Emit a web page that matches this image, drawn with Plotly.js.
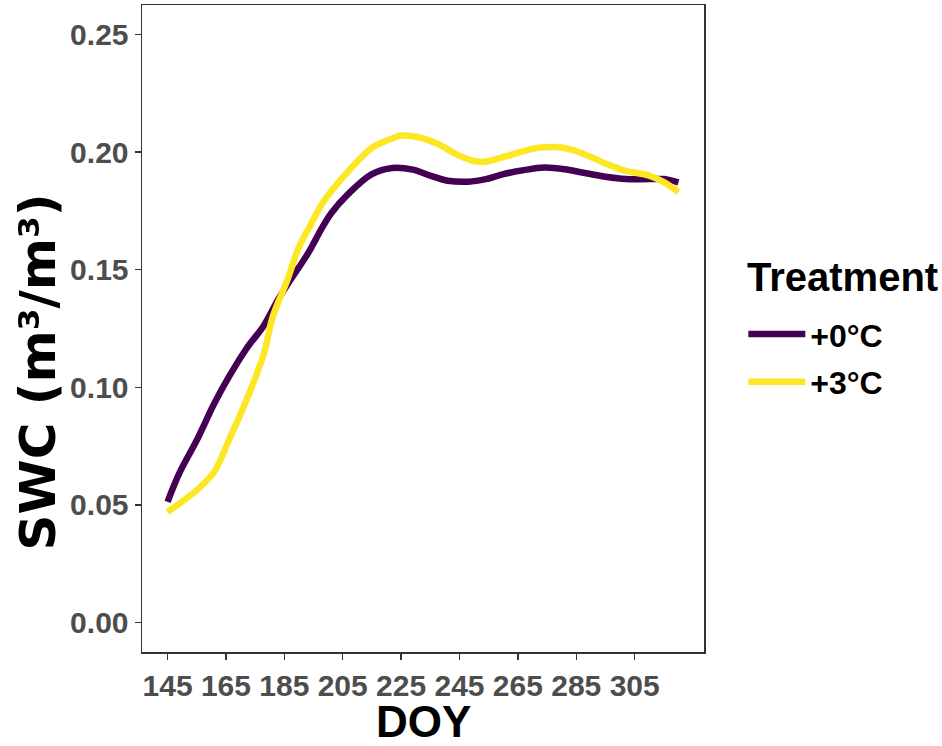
<!DOCTYPE html>
<html>
<head>
<meta charset="utf-8">
<script src="https://cdn.plot.ly/plotly-3.0.1.min.js"></script>
<style>html,body{margin:0;padding:0;background:#fff;}#chart{width:942px;height:746px;}</style>
</head>
<body>
<div id="chart"></div>
<script>
// Treatment names
const treatments = ["+0°C", "+3°C"];
const colors = ["#440154", "#FDE725"];
const legendTitle = "Treatment";
const xTitle = "DOY";
const yTitle = "SWC (m³/m³)";

// +0°C smoothed SWC
const doy0 = [145, 149, 155, 161, 166, 172, 178, 183, 187, 193, 198, 201, 207, 215, 222, 229, 235, 241, 248, 254, 260, 267, 274, 281, 287, 295, 302, 310, 315, 320];
const swc0 = [0.0513, 0.0634, 0.0775, 0.0931, 0.1044, 0.1164, 0.1263, 0.1376, 0.1455, 0.1567, 0.1680, 0.1739, 0.1823, 0.1906, 0.1932, 0.1925, 0.1900, 0.1878, 0.1874, 0.1885, 0.1906, 0.1923, 0.1934, 0.1927, 0.1913, 0.1895, 0.1885, 0.1885, 0.1885, 0.1871];

// +3°C smoothed SWC
const doy3 = [145, 149, 155, 161, 166, 172, 178, 181, 186, 190, 194, 198, 206, 215, 221, 225, 231, 238, 244, 250, 254, 260, 267, 272, 278, 283, 290, 296, 302, 310, 315, 320];
const swc3 = [0.0470, 0.0506, 0.0563, 0.0641, 0.0775, 0.0945, 0.1143, 0.1299, 0.1455, 0.1596, 0.1690, 0.1781, 0.1906, 0.2018, 0.2053, 0.2070, 0.2063, 0.2032, 0.1990, 0.1962, 0.1960, 0.1979, 0.2004, 0.2018, 0.2021, 0.2011, 0.1979, 0.1946, 0.1920, 0.1900, 0.1872, 0.1830];

const xTicks = [145, 165, 185, 205, 225, 245, 265, 285, 305];
const yTicks = [0, 0.05, 0.10, 0.15, 0.20, 0.25];

const FONT = "Liberation Sans, Arial, Helvetica, sans-serif";

const traces = [
  {x: doy0, y: swc0, name: treatments[0], legendgroup: "g0", type: "scatter", mode: "lines",
   line: {color: colors[0], width: 6.5, shape: "spline", smoothing: 1}},
  {x: doy3, y: swc3, name: treatments[1], legendgroup: "g3", type: "scatter", mode: "lines",
   line: {color: colors[1], width: 6.5, shape: "spline", smoothing: 1}}
];

const layout = {
  width: 942, height: 746,
  margin: {l: 142, r: 238, t: 5, b: 94, pad: 0},
  paper_bgcolor: "#ffffff", plot_bgcolor: "#ffffff",
  font: {family: FONT},
  xaxis: {
    range: [136.25, 328.75], tickvals: xTicks, ticktext: xTicks.map(String),
    showgrid: false, zeroline: false, showline: true, mirror: true,
    linecolor: "#333333", linewidth: 1.5,
    ticks: "outside", ticklen: 6, tickwidth: 1.5, tickcolor: "#333333",
    tickfont: {size: 30, color: "#4D4D4D", weight: 700, family: FONT}
  },
  yaxis: {
    range: [-0.0125, 0.2625], tickvals: yTicks, tickformat: ".2f",
    showgrid: false, zeroline: false, showline: true, mirror: true,
    linecolor: "#333333", linewidth: 1.5,
    ticks: "outside", ticklen: 6, tickwidth: 1.5, tickcolor: "#333333",
    tickfont: {size: 30, color: "#4D4D4D", weight: 700, family: FONT}
  },
  annotations: [
    {text: yTitle, textangle: -90,
     xref: "paper", yref: "paper", x: -0.185, y: 0.432,
     xanchor: "center", yanchor: "middle", showarrow: false,
     font: {size: 50, color: "#000000", weight: 700, family: "DejaVu Sans, Liberation Sans, sans-serif"}},
    {text: xTitle,
     xref: "paper", yref: "paper", x: 0.5, y: -0.108,
     xanchor: "center", yanchor: "middle", showarrow: false, borderpad: 0,
     font: {size: 44, color: "#000000", weight: 700, family: FONT}},
    {text: legendTitle,
     xref: "paper", yref: "paper", x: 1.073, y: 0.58,
     xanchor: "left", yanchor: "middle", showarrow: false,
     font: {size: 40, color: "#000000", weight: 700, family: FONT}}
  ],
  showlegend: true,
  legend: {
    x: 1.07, xanchor: "left", y: 0.5336, yanchor: "top",
    bgcolor: "rgba(0,0,0,0)", borderwidth: 0,
    font: {size: 32, color: "#000000", weight: 700, family: FONT},
    itemwidth: 57, tracegroupgap: 3
  }
};

Plotly.newPlot("chart", traces, layout, {displayModeBar: false, staticPlot: true});
</script>
</body>
</html>
